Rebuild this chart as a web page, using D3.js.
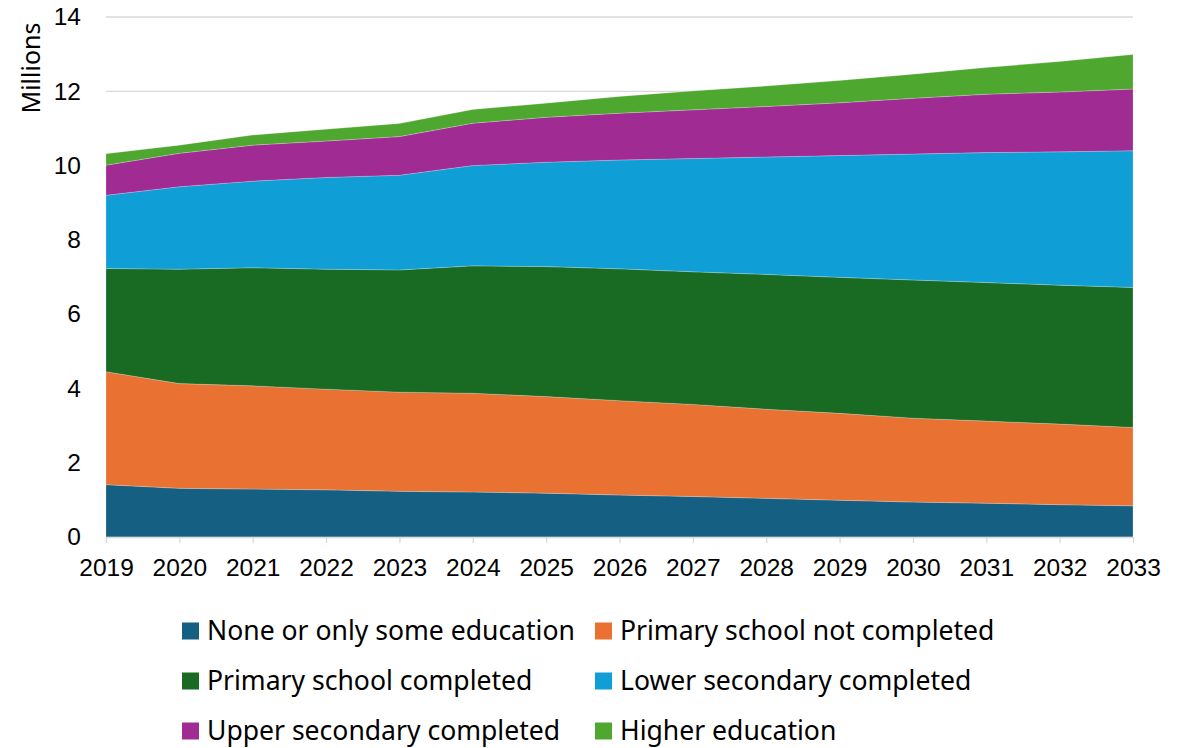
<!DOCTYPE html>
<html>
<head>
<meta charset="utf-8">
<script src="https://cdn.jsdelivr.net/npm/d3@7"></script>
<style>
  html, body { margin: 0; padding: 0; background: #fff; }
  svg { display: block; font-family: "Liberation Sans", Arial, sans-serif; }
</style>
</head>
<body>
<svg id="chart" width="1190" height="748"></svg>
<script>
// Population by educational attainment, millions
const years = [2019, 2020, 2021, 2022, 2023, 2024, 2025, 2026, 2027, 2028, 2029, 2030, 2031, 2032, 2033];
const noneOrSome        = [1.41, 1.31, 1.29, 1.27, 1.23, 1.21, 1.18, 1.13, 1.09, 1.04, 0.99, 0.94, 0.91, 0.87, 0.84];
const primaryNotDone    = [3.04, 2.82, 2.78, 2.71, 2.67, 2.66, 2.60, 2.54, 2.48, 2.40, 2.34, 2.26, 2.21, 2.17, 2.11];
const primaryDone       = [2.78, 3.08, 3.18, 3.23, 3.29, 3.43, 3.50, 3.55, 3.57, 3.63, 3.66, 3.72, 3.73, 3.74, 3.77];
const lowerSecondary    = [1.97, 2.22, 2.33, 2.47, 2.55, 2.70, 2.81, 2.93, 3.05, 3.16, 3.28, 3.39, 3.50, 3.59, 3.68];
const upperSecondary    = [0.81, 0.90, 0.97, 0.98, 1.04, 1.14, 1.21, 1.26, 1.31, 1.36, 1.42, 1.50, 1.57, 1.61, 1.66];
const higherEducation   = [0.31, 0.22, 0.27, 0.32, 0.35, 0.37, 0.38, 0.45, 0.51, 0.55, 0.60, 0.65, 0.72, 0.82, 0.93];
const yTicks = [0, 2, 4, 6, 8, 10, 12, 14];

const seriesNames = [
  "None or only some education",
  "Primary school not completed",
  "Primary school completed",
  "Lower secondary completed",
  "Upper secondary completed",
  "Higher education"
];
const seriesValues = [noneOrSome, primaryNotDone, primaryDone, lowerSecondary, upperSecondary, higherEducation];
const colors = ["#156082", "#E97132", "#196B24", "#0F9ED5", "#A02B93", "#4EA72E"];

const table = years.map((y, i) => {
  const row = { year: y };
  seriesNames.forEach((n, k) => { row[n] = seriesValues[k][i]; });
  return row;
});

const svg = d3.select("#chart");
const margin = { left: 106, right: 57, top: 17, bottom: 211 };
const W = 1190, H = 748;
const labelFont = "'Noto Sans', 'Open Sans', sans-serif";

const x = d3.scaleLinear().domain([2019, 2033]).range([margin.left, W - margin.right]);
const y = d3.scaleLinear().domain([0, 14]).range([H - margin.bottom, margin.top]);

// gridlines
svg.append("g")
  .selectAll("line")
  .data(yTicks.filter(t => t > 0))
  .join("line")
  .attr("x1", x(2019)).attr("x2", x(2033))
  .attr("y1", d => y(d)).attr("y2", d => y(d))
  .attr("stroke", "#d9d9d9").attr("stroke-width", 1.3);

// stacked areas
const stack = d3.stack().keys(seriesNames);
const layers = stack(table);
const area = d3.area()
  .x(d => x(d.data.year))
  .y0(d => y(d[0]))
  .y1(d => y(d[1]));

svg.append("g")
  .selectAll("path")
  .data(layers)
  .join("path")
  .attr("d", area)
  .attr("fill", (d, i) => colors[i])
  .attr("stroke", "rgba(255,255,255,0.35)")
  .attr("stroke-width", 0.6);

// x axis
const xAxis = d3.axisBottom(x)
  .tickValues(years)
  .tickFormat(d3.format("d"))
  .tickSize(6)
  .tickSizeOuter(0);
const gx = svg.append("g")
  .attr("transform", `translate(0,${y(0)})`)
  .call(xAxis);
gx.select(".domain").attr("stroke", "#d9d9d9").attr("stroke-width", 1.3);
gx.selectAll(".tick line").attr("stroke", "#d9d9d9").attr("stroke-width", 1.3);
gx.selectAll(".tick text")
  .attr("font-size", 24.5).attr("fill", "#000").attr("dy", "0.71em").attr("y", 22)
  .attr("font-family", "Liberation Sans, Arial, sans-serif");

// y axis labels
const yAxis = d3.axisLeft(y).tickValues(yTicks).tickSize(0).tickPadding(25);
const gy = svg.append("g")
  .attr("transform", `translate(${x(2019)},0)`)
  .call(yAxis);
gy.select(".domain").remove();
gy.selectAll(".tick text")
  .attr("font-size", 24.5).attr("fill", "#000")
  .attr("font-family", "Liberation Sans, Arial, sans-serif");

// y axis title
const title = svg.append("text")
  .attr("transform", `translate(40,68) rotate(-90)`)
  .attr("text-anchor", "middle")
  .attr("font-family", labelFont)
  .attr("font-size", 24)
  .attr("fill", "#000")
  .text("Millions");
const titleW = title.node().getComputedTextLength();
title.attr("font-size", 24 * 91 / titleW);

// legend
const legendCols = [182, 595];
const legendRows = [631, 681, 731];
const legend = svg.append("g")
  .selectAll("g")
  .data(seriesNames)
  .join("g")
  .attr("transform", (d, i) => `translate(${legendCols[i % 2]},${legendRows[Math.floor(i / 2)]})`);
legend.append("rect")
  .attr("x", 0).attr("y", -8.5).attr("width", 17).attr("height", 17)
  .attr("fill", (d, i) => colors[i]);
const legendText = legend.append("text")
  .attr("x", 25).attr("y", 0).attr("dy", "0.35em")
  .attr("font-family", labelFont)
  .attr("font-size", 25)
  .attr("fill", "#000")
  .text(d => d);
// size legend type so the first entry spans its column
const firstW = legendText.nodes()[0].getComputedTextLength();
legendText.attr("font-size", 25 * 368 / firstW);
</script>
</body>
</html>
